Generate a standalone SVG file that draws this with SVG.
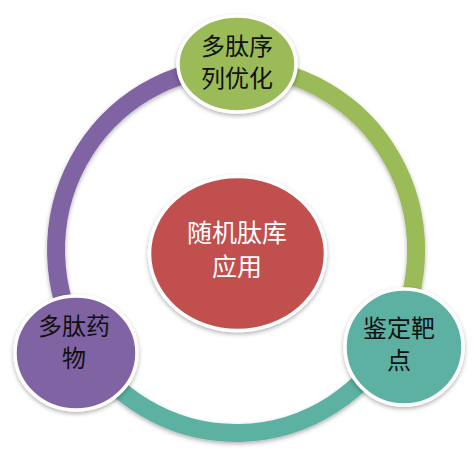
<svg xmlns="http://www.w3.org/2000/svg" width="472" height="454" viewBox="0 0 472 454">
  <defs>
    <filter id="sh" x="-20%" y="-20%" width="140%" height="140%">
      <feDropShadow dx="0" dy="2" stdDeviation="2" flood-color="#000" flood-opacity="0.3"/>
    </filter>
    <style>
      .arc { fill: none; stroke-width: 18; filter: url(#sh); }
      .node { stroke: #fff; stroke-width: 3.5; filter: url(#sh); }
      .lbl { font-family: "Noto Sans CJK SC", "Noto Sans", sans-serif; font-size: 24px; text-anchor: middle; fill: #111; }
      .lblc { font-family: "Noto Sans CJK SC", "Noto Sans", sans-serif; font-size: 25px; text-anchor: middle; fill: #fff; }
    </style>
  </defs>
  <rect width="472" height="454" fill="#fff"/>
  <g id="connectors">
    <path class="arc" stroke="#9BBB59" d="M 236 67 A 180 183 0 0 1 392 341.5"/>
    <path class="arc" stroke="#5CB1A3" d="M 392 341.5 A 180 183 0 0 1 83.4 347"/>
    <path class="arc" stroke="#8064A2" d="M 83.4 347 A 180 183 0 0 1 236 67"/>
  </g>
  <g id="center">
    <ellipse class="node" cx="237.5" cy="253.5" rx="88" ry="77" fill="#C0504D"/>
    <text class="lblc"><tspan x="237" y="242">随机肽库</tspan><tspan x="237" y="276">应用</tspan></text>
  </g>
  <g id="top">
    <ellipse class="node" cx="237" cy="64" rx="59" ry="48" fill="#9BBB59"/>
    <text class="lbl"><tspan x="237" y="55">多肽序</tspan><tspan x="237" y="87">列优化</tspan></text>
  </g>
  <g id="right">
    <ellipse class="node" cx="404" cy="347" rx="59" ry="58" fill="#5CB1A3"/>
    <text class="lbl"><tspan x="399" y="337">鉴定靶</tspan><tspan x="399" y="369">点</tspan></text>
  </g>
  <g id="left">
    <ellipse class="node" cx="76" cy="353" rx="61" ry="57" fill="#8064A2"/>
    <text class="lbl"><tspan x="74" y="335">多肽药</tspan><tspan x="74" y="367">物</tspan></text>
  </g>
</svg>
